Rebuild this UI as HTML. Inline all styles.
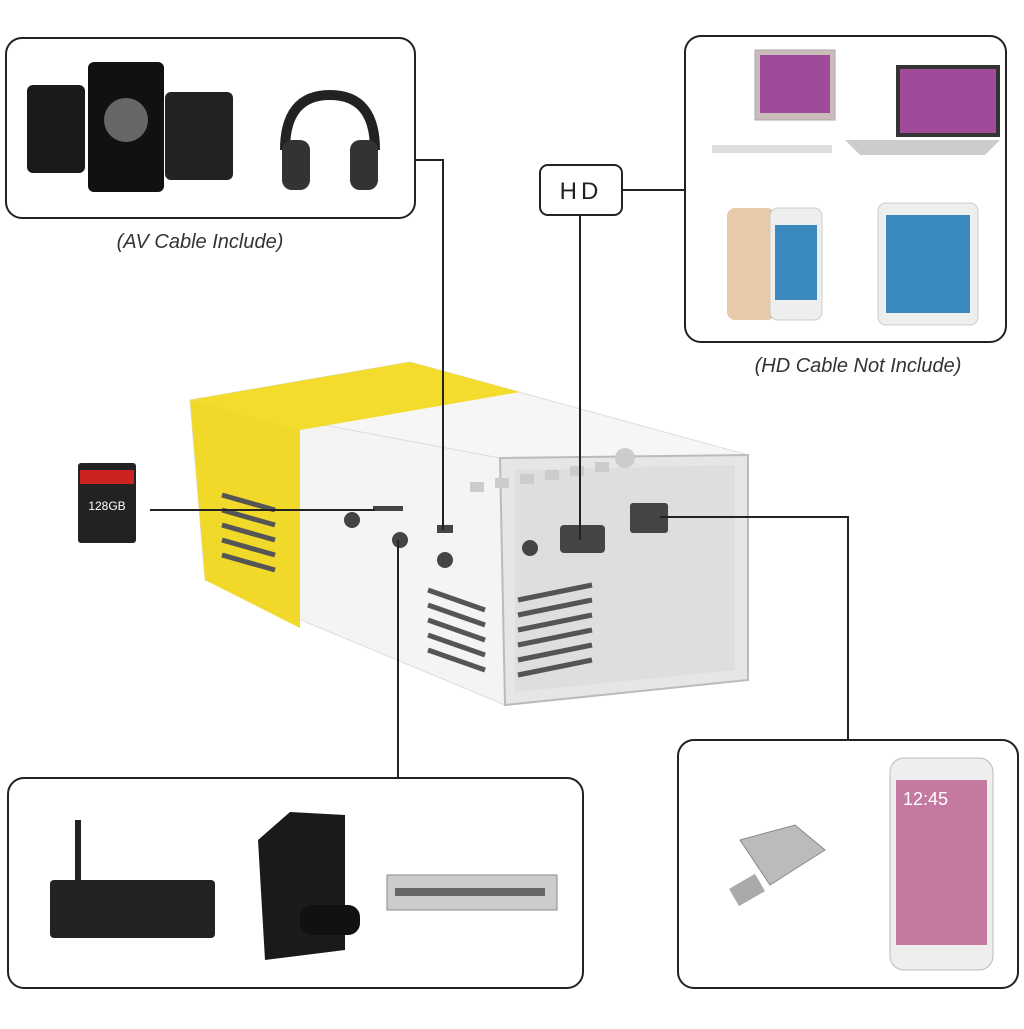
<!DOCTYPE html>
<html><head><style>
body{margin:0;width:1024px;height:1024px;background:#fff;overflow:hidden;font-family:"Liberation Sans",sans-serif}
</style></head><body>
<svg width="1024" height="1024" viewBox="0 0 1024 1024" xmlns="http://www.w3.org/2000/svg">
<!-- projector -->
<polygon points="190,400 500,458 505,705 205,580" fill="#f4f4f4" stroke="#ddd"/>
<polygon points="190,400 300,420 300,628 205,580" fill="#f1d92a"/>
<polygon points="190,400 410,362 748,455 500,458" fill="#f6f6f6" stroke="#ddd"/>
<polygon points="190,400 410,362 520,392 300,430" fill="#f3dc2c"/>
<polygon points="500,458 748,455 748,680 505,705" fill="#e6e6e6" stroke="#bbb" stroke-width="2"/>
<polygon points="515,470 735,465 735,670 515,692" fill="#dedede"/>
<g fill="#444"><rect x="560" y="525" width="45" height="28" rx="4"/><rect x="630" y="503" width="38" height="30" rx="3"/><circle cx="530" cy="548" r="8"/>
<circle cx="352" cy="520" r="8"/><circle cx="400" cy="540" r="8"/><circle cx="445" cy="560" r="8"/><rect x="373" y="506" width="30" height="5"/><rect x="437" y="525" width="16" height="8"/></g>
<g stroke="#555" stroke-width="5">
<line x1="222" y1="495" x2="275" y2="510"/><line x1="222" y1="510" x2="275" y2="525"/><line x1="222" y1="525" x2="275" y2="540"/><line x1="222" y1="540" x2="275" y2="555"/><line x1="222" y1="555" x2="275" y2="570"/>
<line x1="428" y1="590" x2="485" y2="610"/><line x1="428" y1="605" x2="485" y2="625"/><line x1="428" y1="620" x2="485" y2="640"/><line x1="428" y1="635" x2="485" y2="655"/><line x1="428" y1="650" x2="485" y2="670"/>
<line x1="518" y1="600" x2="592" y2="585"/><line x1="518" y1="615" x2="592" y2="600"/><line x1="518" y1="630" x2="592" y2="615"/><line x1="518" y1="645" x2="592" y2="630"/><line x1="518" y1="660" x2="592" y2="645"/><line x1="518" y1="675" x2="592" y2="660"/>
</g>
<g fill="#ccc"><rect x="470" y="482" width="14" height="10"/><rect x="495" y="478" width="14" height="10"/><rect x="520" y="474" width="14" height="10"/><rect x="545" y="470" width="14" height="10"/><rect x="570" y="466" width="14" height="10"/><rect x="595" y="462" width="14" height="10"/><circle cx="625" cy="458" r="10"/></g>
<g fill="none" stroke="#222" stroke-width="2">
<rect x="6" y="38" width="409" height="180" rx="16"/>
<rect x="685" y="36" width="321" height="306" rx="16"/>
<rect x="8" y="778" width="575" height="210" rx="16"/>
<rect x="678" y="740" width="340" height="248" rx="16"/>
<rect x="540" y="165" width="82" height="50" rx="8"/>
<polyline points="415,160 443,160 443,530"/>
<polyline points="622,190 685,190"/>
<polyline points="580,215 580,540"/>
<polyline points="150,510 375,510"/>
<polyline points="398,540 398,778"/>
<polyline points="660,517 848,517 848,740"/>
</g>
<text x="581" y="199" font-size="24" text-anchor="middle" letter-spacing="4" fill="#222">HD</text>
<text x="200" y="248" font-size="20" font-style="italic" text-anchor="middle" fill="#333">(AV Cable Include)</text>
<text x="858" y="372" font-size="20" font-style="italic" text-anchor="middle" fill="#333">(HD Cable Not Include)</text>
<!-- SD -->
<rect x="78" y="463" width="58" height="80" rx="3" fill="#222"/><rect x="80" y="470" width="54" height="14" fill="#c22"/><text x="107" y="510" font-size="12" fill="#fff" text-anchor="middle">128GB</text>
<!-- top-left devices -->
<rect x="27" y="85" width="58" height="88" rx="6" fill="#1a1a1a"/><rect x="88" y="62" width="76" height="130" rx="6" fill="#111"/><circle cx="126" cy="120" r="22" fill="#666"/><rect x="165" y="92" width="68" height="88" rx="6" fill="#222"/>
<path d="M285 150 Q285 95 330 95 Q375 95 375 150" stroke="#222" stroke-width="10" fill="none"/><rect x="282" y="140" width="28" height="50" rx="10" fill="#333"/><rect x="350" y="140" width="28" height="50" rx="10" fill="#333"/>
<!-- top-right devices -->
<rect x="755" y="50" width="80" height="70" fill="#cbb" stroke="#aaa"/><rect x="760" y="55" width="70" height="58" fill="#a04a9a"/><rect x="712" y="145" width="120" height="8" fill="#ddd"/>
<rect x="898" y="67" width="100" height="68" fill="#a04a9a" stroke="#333" stroke-width="4"/><polygon points="845,140 1000,140 985,155 860,155" fill="#ccc"/>
<rect x="727" y="208" width="48" height="112" rx="8" fill="#e8c9a8"/><rect x="770" y="208" width="52" height="112" rx="8" fill="#eee" stroke="#ccc"/><rect x="775" y="225" width="42" height="75" fill="#3a8ac0"/>
<rect x="878" y="203" width="100" height="122" rx="8" fill="#eee" stroke="#ccc"/><rect x="886" y="215" width="84" height="98" fill="#3a8ac0"/>
<!-- bottom-left -->
<rect x="50" y="880" width="165" height="58" rx="4" fill="#222"/><line x1="78" y1="820" x2="78" y2="880" stroke="#222" stroke-width="6"/>
<polygon points="258,840 290,812 345,815 345,950 265,960" fill="#1a1a1a"/><rect x="300" y="905" width="60" height="30" rx="12" fill="#111"/>
<rect x="387" y="875" width="170" height="35" fill="#ccc" stroke="#888"/><rect x="395" y="888" width="150" height="8" fill="#666"/>
<!-- bottom-right -->
<rect x="890" y="758" width="103" height="212" rx="14" fill="#eee" stroke="#bbb"/><rect x="896" y="780" width="91" height="165" fill="#c47aa0"/><text x="903" y="805" font-size="18" fill="#fff">12:45</text>
<polygon points="740,840 795,825 825,850 770,885" fill="#bbb" stroke="#888"/><rect x="732" y="880" width="30" height="20" fill="#aaa" transform="rotate(-30 747 890)"/>
</svg>
</body></html>
